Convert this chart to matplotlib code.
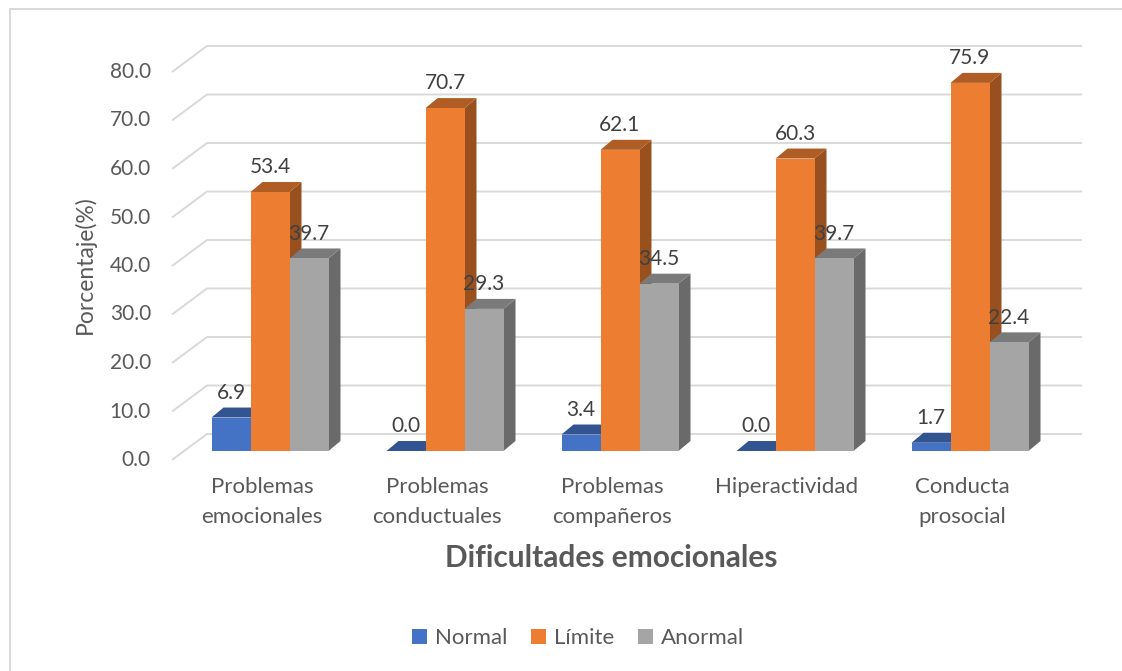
import numpy as np
import matplotlib.pyplot as plt
from matplotlib.patches import Polygon, Rectangle
from matplotlib.colors import to_rgb

categories = ["Problemas\nemocionales", "Problemas\nconductuales", "Problemas\ncompañeros",
              "Hiperactividad", "Conducta\nprosocial"]
series = ["Normal", "Límite", "Anormal"]
normal = [6.9, 0.0, 3.4, 0.0, 1.7]
limite = [53.4, 70.7, 62.1, 60.3, 75.9]
anormal = [39.7, 29.3, 34.5, 39.7, 22.4]
yticks = [0, 10, 20, 30, 40, 50, 60, 70, 80]

colors = ["#4472C4", "#ED7D31", "#A5A5A5"]
txt = "#595959"
lbl = "#404040"
grid = "#D9D9D9"

plt.rcParams['font.family'] = ['Lato', 'DejaVu Sans']

W, H = 1122, 671
fig = plt.figure(figsize=(W / 100, H / 100), dpi=100)
ax = fig.add_axes([0, 0, 1, 1])
ax.axis('off')

# pixel geometry of the excel-ish 3d chart
px_cat = 175.0      # pixels per category
px_val = 4.85       # pixels per percent
x0_px, base_px = 270.0, 451.0
ax.set_xlim(-x0_px / px_cat, (W - x0_px) / px_cat)
ax.set_ylim(-(H - base_px) / px_val, base_px / px_val)

def cx(px):
    return px / px_cat

def vy(px):
    return px / px_val

# back wall + left floor diagonals
back_dy = vy(17)
front_dy = -vy(9)
for v in yticks:
    ax.plot([cx(172 - x0_px), cx(207 - x0_px), cx(1082 - x0_px)],
            [v + front_dy, v + back_dy, v + back_dy], color=grid, lw=1.4, zorder=1,
            solid_capstyle='butt')
    ax.text(cx(151 - x0_px), v + front_dy, f"{v:.1f}", ha='right', va='center',
            fontsize=15, color=txt)

# bars
x = np.arange(len(categories))
w = cx(39)
ddx, ddy = cx(12), vy(10)

def shade(c, f):
    return tuple(np.array(to_rgb(c)) * f)

handles = []
for i, (vals, col) in enumerate(zip([normal, limite, anormal], colors)):
    bars = ax.bar(x + (i - 1) * w, vals, width=w, color=col, zorder=3 + i * 0.1,
                  label=series[i])
    handles.append(bars)
    for b, v in zip(bars, vals):
        bx, bw, bh = b.get_x(), b.get_width(), b.get_height()
        top = Polygon([(bx, bh), (bx + bw, bh), (bx + bw + ddx, bh + ddy), (bx + ddx, bh + ddy)],
                      closed=True, facecolor=shade(col, 0.74), edgecolor='none',
                      zorder=3 + i * 0.1 - 0.05)
        side = Polygon([(bx + bw, 0), (bx + bw + ddx, ddy), (bx + bw + ddx, bh + ddy), (bx + bw, bh)],
                       closed=True, facecolor=shade(col, 0.64), edgecolor='none',
                       zorder=3 + i * 0.1 - 0.05)
        ax.add_patch(side)
        ax.add_patch(top)
        ax.text(bx + bw / 2, v + 5.1, f"{v:.1f}", ha='center', va='center',
                fontsize=15, color=lbl, zorder=6)

# category labels
for xi, lab in zip(x, categories):
    ax.text(xi - cx(8), -vy(477 - base_px), lab, ha='center', va='top', fontsize=16,
            color=txt, linespacing=1.6)

ax.text(cx(611 - x0_px), -vy(558 - base_px), "Dificultades emocionales", ha='center',
        va='center', fontsize=21.5, fontweight='bold', color=txt)
ax.text(cx(85 - x0_px), vy(base_px - 265), "Porcentaje(%)", ha='center', va='center',
        rotation=90, fontsize=16.5, color=txt)

leg = fig.legend(handles=handles, labels=series, loc='center', ncol=3, frameon=False,
                 bbox_to_anchor=(578 / W, 1 - 638 / H), fontsize=16, handlelength=0.65,
                 handleheight=0.65, handletextpad=0.35, columnspacing=1.1)
for t in leg.get_texts():
    t.set_color(txt)

fig.patches.append(Rectangle((10 / W, -0.1), 1.2, 1.1 - 9 / H, transform=fig.transFigure,
                             fill=False, edgecolor=grid, lw=1.4))

fig.savefig("out.png", dpi=100)
